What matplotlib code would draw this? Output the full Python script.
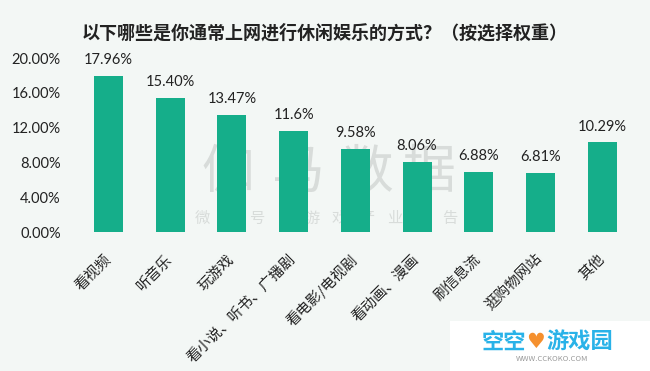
import matplotlib
matplotlib.use("Agg")
import matplotlib.pyplot as plt
from matplotlib.patches import Rectangle

plt.rcParams['font.family'] = ['Noto Sans CJK SC', 'DejaVu Sans']

categories = ["看视频", "听音乐", "玩游戏", "看小说、听书、广播剧", "看电影/电视剧",
              "看动画、漫画", "刷信息流", "逛购物网站", "其他"]
values = [17.96, 15.40, 13.47, 11.6, 9.58, 8.06, 6.88, 6.81, 10.29]
value_labels = ["17.96%", "15.40%", "13.47%", "11.6%", "9.58%", "8.06%", "6.88%", "6.81%", "10.29%"]
yticks = [0, 4, 8, 12, 16, 20]
ytick_labels = ["0.00%", "4.00%", "8.00%", "12.00%", "16.00%", "20.00%"]
title = "以下哪些是你通常上网进行休闲娱乐的方式？（按选择权重）"
wm_big = "伽马数据"
wm_small = "微信号：游戏产业报告"

bg = "#f3f7f5"
bar_color = "#15ae8a"
W, H = 650, 371

fig = plt.figure(figsize=(6.5, 3.71), dpi=100, facecolor=bg)
ax = fig.add_axes([77.6/W, 1-232/H, (633-77.6)/W, 174/H])
ax.set_facecolor(bg)

x = range(len(categories))
ax.bar(x, values, width=0.47, color=bar_color, zorder=3)
for xi, v, lab in zip(x, values, value_labels):
    ax.text(xi, v + 1.0, lab, ha='center', va='bottom', fontsize=10.5,
            family=['Lato', 'DejaVu Sans'], color='#222222', zorder=4)

ax.set_xlim(-0.5, len(categories) - 0.5)
ax.set_ylim(0, 20)
ax.set_yticks(yticks)
ax.set_yticklabels(ytick_labels, fontsize=10.5, family=['Lato', 'DejaVu Sans'], color='#222222')
ax.set_xticks(list(x))
ax.set_xticklabels(categories, rotation=45, ha='right', va='center', rotation_mode='anchor',
                   fontsize=10.5, color='#222222')
ax.tick_params(axis='both', length=0)
ax.tick_params(axis='y', pad=12)
ax.tick_params(axis='x', pad=18)
for s in ax.spines.values():
    s.set_visible(False)

fig.text(325/W, 1-33/H, title, ha='center', va='center', fontsize=13,
         fontweight='bold', color='#222222')

# watermark (behind bars)
big_x = [228, 298, 367, 429]
for ch, px in zip(wm_big, big_x):
    ax.text(px/W, 1-172/H, ch, transform=fig.transFigure, ha='center', va='center',
            fontsize=38, fontweight='light', color='#d8dcda', zorder=1)
for i, ch in enumerate(wm_small):
    px = 202 + i*27.5
    ax.text(px/W, 1-218/H, ch, transform=fig.transFigure, ha='center', va='center',
            fontsize=11, color='#d8dcda', zorder=1)

# site logo box
fig.patches.append(Rectangle((450/W, 0), 200/W, 50/H, transform=fig.transFigure,
                             facecolor='white', edgecolor='none', zorder=5))
fig.text(526/W, 1-342/H, "空空", ha='right', va='center', fontsize=16,
         fontweight='bold', color='#29b2e8', zorder=6)
fig.text(536/W, 1-342/H, "♥", ha='center', va='center', fontsize=15,
         family=['DejaVu Sans'], color='#f5902e', zorder=6)
fig.text(546/W, 1-342/H, "游戏园", ha='left', va='center', fontsize=16,
         fontweight='bold', color='#29b2e8', zorder=6)
fig.text(552/W, 1-359/H, "WWW.CCKOKO.COM", ha='center', va='center', fontsize=5.5,
         color='#999999', zorder=6)

fig.savefig("out.png", dpi=100, facecolor=bg)
